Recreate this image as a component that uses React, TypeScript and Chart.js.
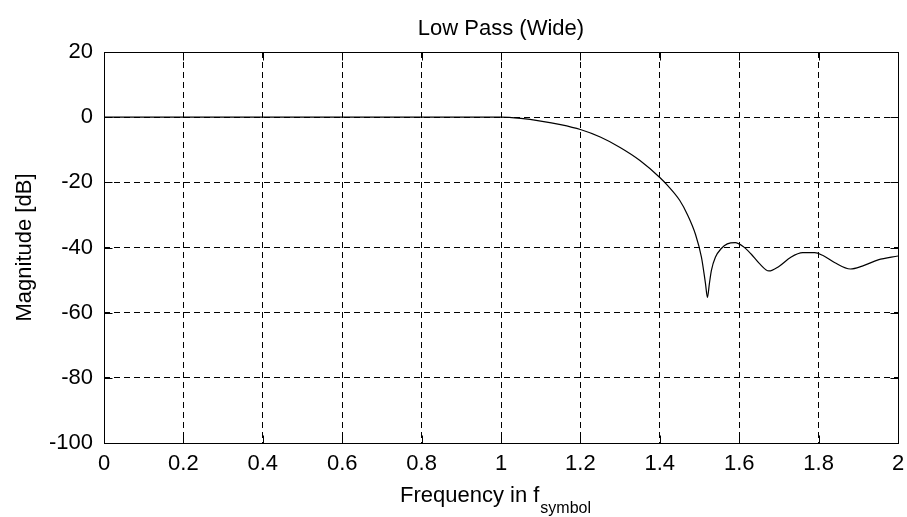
import React, { useEffect, useRef } from 'react';
import { Chart, registerables } from 'chart.js';

Chart.register(...registerables);

const freq = [0, 0.2, 0.4, 0.6, 0.8, 1.0, 1.05, 1.1, 1.15, 1.2, 1.25, 1.3, 1.35, 1.4, 1.42, 1.45, 1.47, 1.49, 1.505, 1.515, 1.52, 1.525, 1.53, 1.54, 1.555, 1.57, 1.59, 1.61, 1.63, 1.65, 1.675, 1.7, 1.73, 1.76, 1.79, 1.81, 1.84, 1.88, 1.91, 1.95, 2.0];
const magnitude = [0, 0, 0, 0, 0, 0, -0.4, -1.2, -2.3, -3.8, -6.1, -9.3, -13.3, -18.5, -21, -25.5, -30, -36, -43, -51, -55.3, -51, -47, -43, -40.3, -38.9, -38.5, -39.7, -42, -44.8, -47.2, -45.8, -43, -41.6, -41.6, -42.4, -44.6, -46.6, -45.7, -43.8, -42.6];

const xTicks = [0, 0.2, 0.4, 0.6, 0.8, 1, 1.2, 1.4, 1.6, 1.8, 2];
const xTickLabels = ['0', '0.2', '0.4', '0.6', '0.8', '1', '1.2', '1.4', '1.6', '1.8', '2'];
const yTicks = [-100, -80, -60, -40, -20, 0, 20];
const yTickLabels = ['-100', '-80', '-60', '-40', '-20', '0', '20'];

const chartTitle = 'Low Pass (Wide)';
const yTitle = 'Magnitude [dB]';
const xTitle = 'Frequency in f';
const xTitleSub = 'symbol';

const FONT = '"Liberation Sans", Arial, Helvetica, sans-serif';
const FS = 22;

function labelFor(ticks: number[], labels: string[], v: number) {
  const i = ticks.findIndex((t) => Math.abs(t - v) < 1e-9);
  return i >= 0 ? labels[i] : '';
}

const framePlugin = {
  id: 'matlabFrame',
  afterDraw(chart: any) {
    const ctx = chart.ctx;
    const { left, right, top, bottom } = chart.chartArea;
    const xs = chart.scales.x;
    const ys = chart.scales.y;
    const L = Math.round(left) + 0.5;
    const R = Math.round(right) + 0.5;
    const T = Math.round(top) + 0.5;
    const B = Math.round(bottom) + 0.5;
    ctx.save();
    ctx.strokeStyle = '#000';
    ctx.lineWidth = 1;
    ctx.setLineDash([]);
    ctx.strokeRect(L, T, R - L, B - T);
    const tl = 8;
    ctx.beginPath();
    xTicks.forEach((v) => {
      const px = Math.round(xs.getPixelForValue(v)) + 0.5;
      ctx.moveTo(px, B); ctx.lineTo(px, B - tl);
      ctx.moveTo(px, T); ctx.lineTo(px, T + tl);
    });
    yTicks.forEach((v) => {
      const py = Math.round(ys.getPixelForValue(v)) + 0.5;
      ctx.moveTo(L, py); ctx.lineTo(L + tl, py);
      ctx.moveTo(R, py); ctx.lineTo(R - tl, py);
    });
    ctx.stroke();

    ctx.fillStyle = '#000';
    ctx.font = `${FS}px ${FONT}`;
    ctx.textAlign = 'center';
    ctx.textBaseline = 'alphabetic';
    ctx.fillText(chartTitle, (left + right) / 2, 35);

    ctx.save();
    ctx.translate(31, (top + bottom) / 2);
    ctx.rotate(-Math.PI / 2);
    ctx.textAlign = 'center';
    ctx.fillText(yTitle, 0, 0);
    ctx.restore();

    ctx.font = `${FS}px ${FONT}`;
    const w1 = ctx.measureText(xTitle).width;
    ctx.font = `${Math.round(FS * 0.72)}px ${FONT}`;
    const w2 = ctx.measureText(xTitleSub).width;
    const cx = 495;
    const startX = cx - (w1 + w2) / 2;
    ctx.textAlign = 'left';
    ctx.font = `${FS}px ${FONT}`;
    ctx.fillText(xTitle, startX, 502);
    ctx.font = `${Math.round(FS * 0.72)}px ${FONT}`;
    ctx.fillText(xTitleSub, startX + w1 + 1, 513);
    ctx.restore();
  },
};

export default function App() {
  const ref = useRef<HTMLCanvasElement | null>(null);
  useEffect(() => {
    document.body.style.margin = '0';
    const canvas = ref.current;
    if (!canvas) return;
    const chart = new Chart(canvas, {
      type: 'line',
      data: {
        datasets: [
          {
            data: freq.map((x, i) => ({ x, y: magnitude[i] })),
            borderColor: '#000',
            borderWidth: 1.2,
            pointRadius: 0,
            fill: false,
            cubicInterpolationMode: 'monotone',
          },
        ],
      },
      options: {
        animation: false,
        responsive: false,
        maintainAspectRatio: false,
        layout: { padding: { left: 0, right: 9, top: 52, bottom: 0 } },
        plugins: {
          legend: { display: false },
          tooltip: { enabled: false },
          title: { display: false },
        },
        scales: {
          x: {
            type: 'linear',
            min: 0,
            max: 2,
            afterBuildTicks: (s: any) => {
              s.ticks = xTicks.map((v) => ({ value: v }));
            },
            afterFit: (s: any) => {
              s.height = 74;
              s.paddingLeft = 0;
              s.paddingRight = 0;
            },
            ticks: {
              autoSkip: false,
              maxRotation: 0,
              padding: 8,
              color: '#000',
              font: { family: FONT, size: FS },
              callback: (v: any) => labelFor(xTicks, xTickLabels, Number(v)),
            },
            grid: { color: '#000', lineWidth: 1, drawTicks: false },
            border: { display: false, dash: [6, 4] },
          },
          y: {
            type: 'linear',
            min: -100,
            max: 20,
            afterBuildTicks: (s: any) => {
              s.ticks = yTicks.map((v) => ({ value: v }));
            },
            afterFit: (s: any) => {
              s.width = 104;
              s.paddingTop = 0;
              s.paddingBottom = 0;
            },
            ticks: {
              autoSkip: false,
              padding: 11,
              color: '#000',
              font: { family: FONT, size: FS },
              callback: (v: any) => labelFor(yTicks, yTickLabels, Number(v)),
            },
            grid: { color: '#000', lineWidth: 1, drawTicks: false },
            border: { display: false, dash: [6, 4] },
          },
        },
      },
      plugins: [framePlugin],
    } as any);
    return () => chart.destroy();
  }, []);
  return (
    <div style={{ width: 907, height: 517, background: '#fff' }}>
      <canvas ref={ref} width={907} height={517} style={{ display: 'block' }} />
    </div>
  );
}
